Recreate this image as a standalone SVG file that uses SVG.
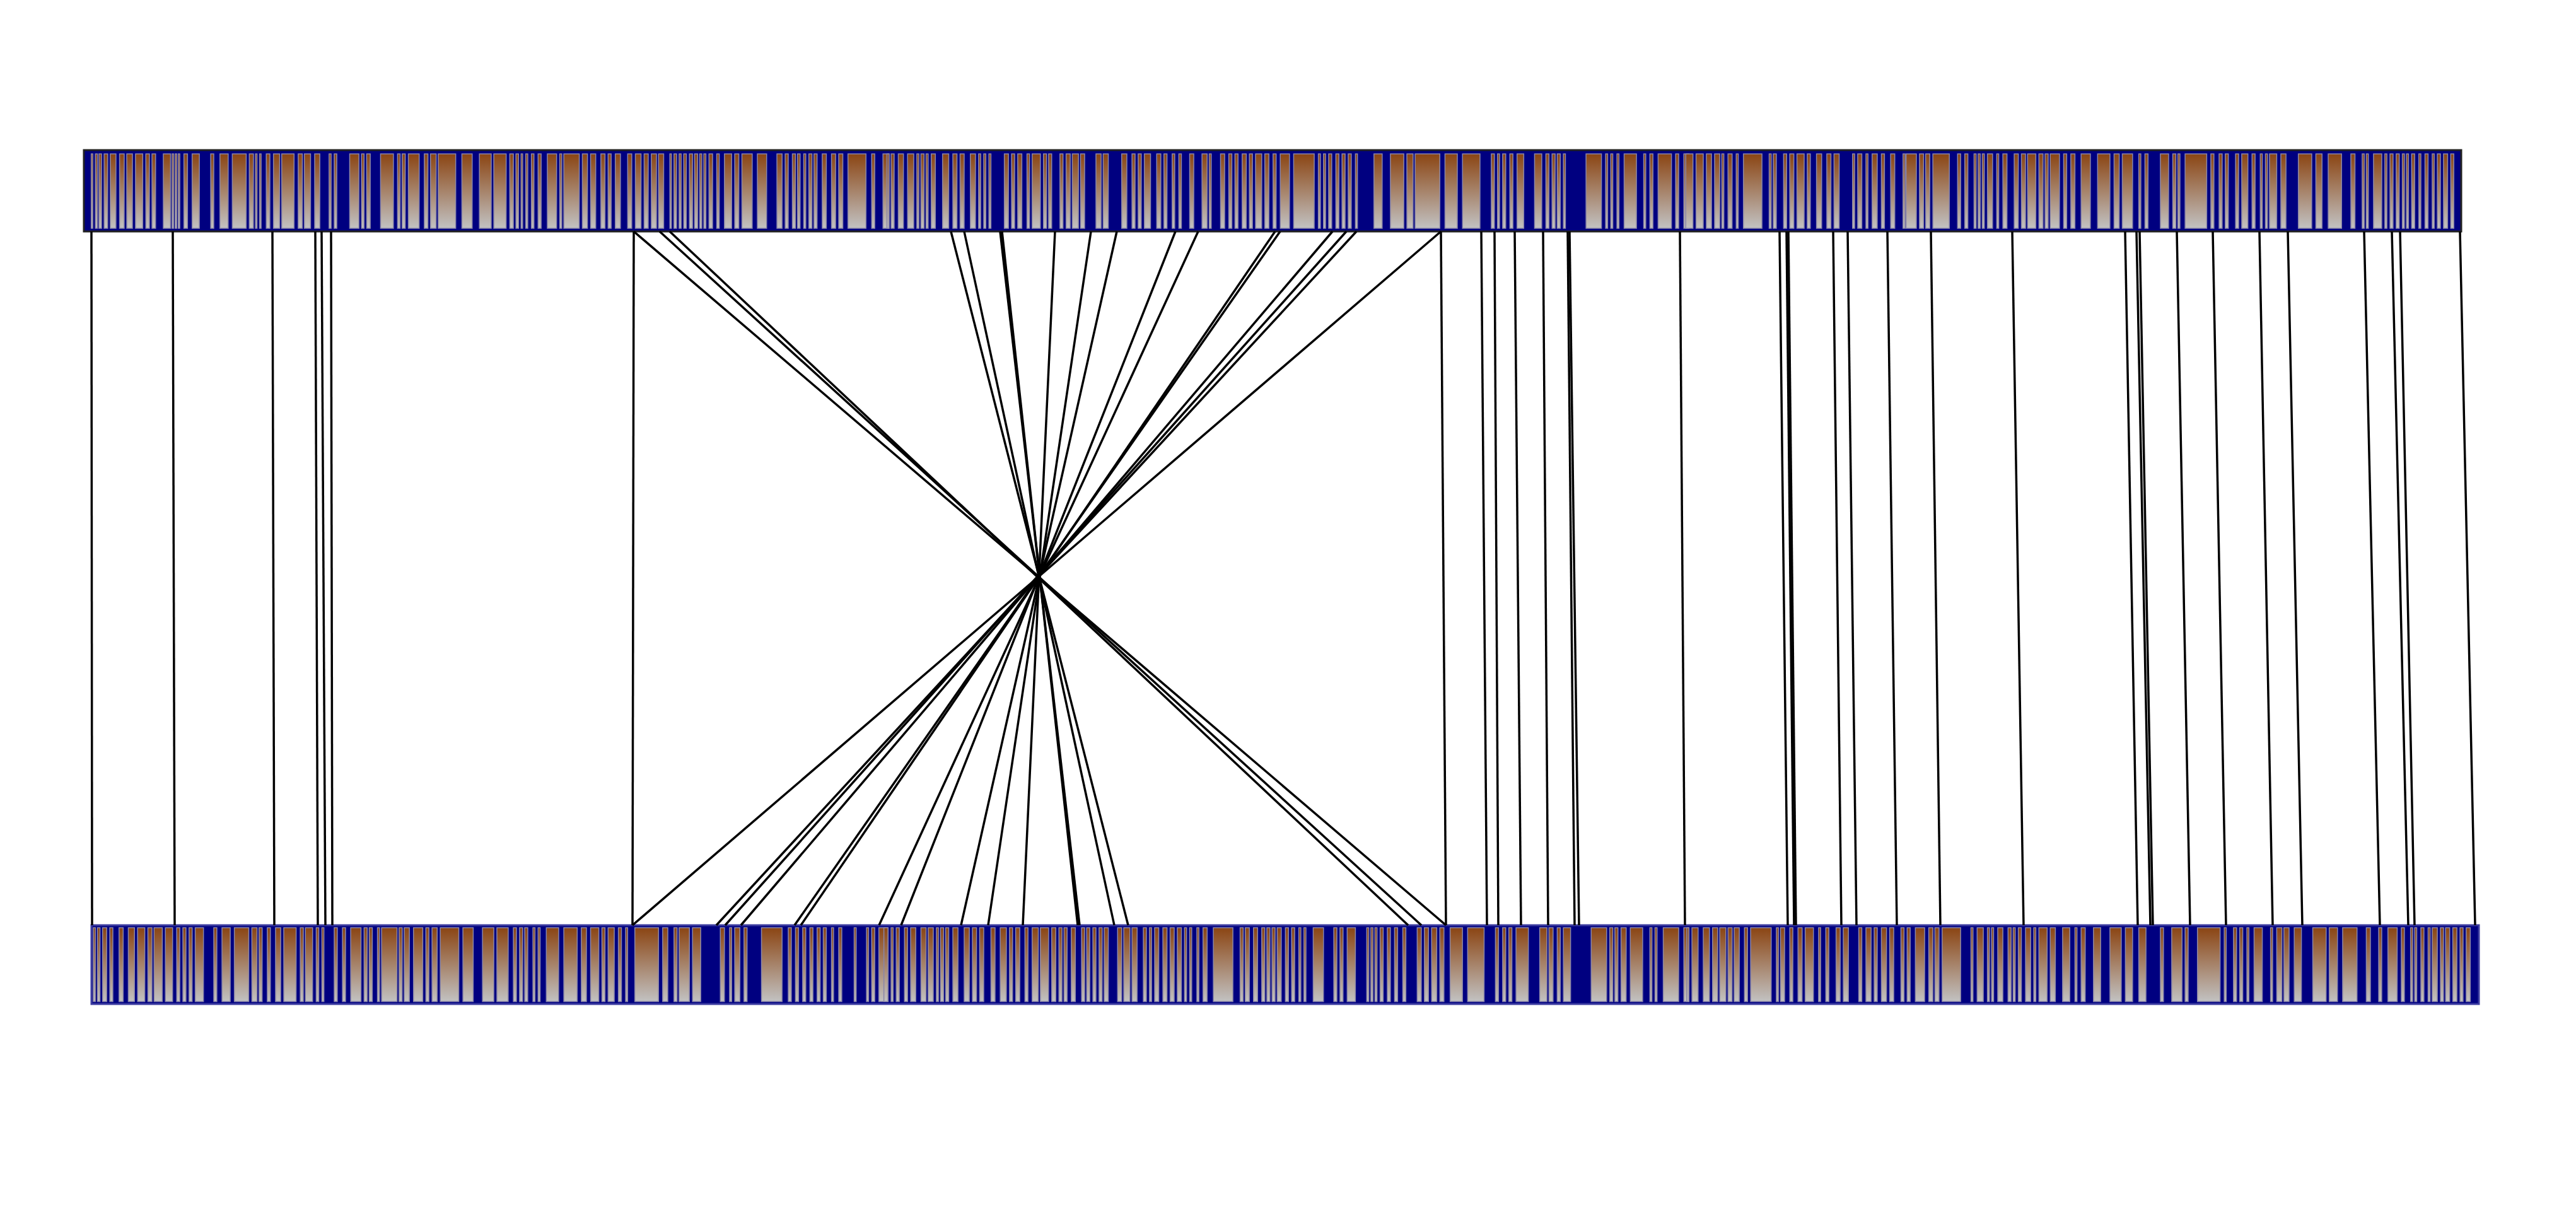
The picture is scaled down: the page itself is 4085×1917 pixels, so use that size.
<svg xmlns="http://www.w3.org/2000/svg" width="4085" height="1917" viewBox="0 0 4085 1917">
<style>
.bar{fill:#000080}
.gap{fill:url(#grad);stroke:#8a86a8;stroke-width:1.5}
.conn line{stroke:#000;stroke-width:3.5}
</style>
<defs>
<linearGradient id="grad" x1="0" y1="0" x2="0" y2="1">
<stop offset="0" stop-color="#8B4513"/>
<stop offset="1" stop-color="#C2C2C2"/>
</linearGradient>
</defs>
<rect width="4085" height="1917" fill="#fff"/>
<g id="genome-top">
<rect class="bar" x="133" y="238" width="3770" height="129" stroke="#222" stroke-width="3"/>
<g transform="translate(130 244) scale(0.81633 1)">
<path class="gap" vector-effect="non-scaling-stroke" d="M18 0H21V118H18Z M26 0H30V118H26Z M33 0H38V118H33Z M43 0H50V118H43Z M55 0H66V118H55Z M73 0H82V118H73Z M87 0H98V118H87Z M104 0H118V118H104Z M124 0H131V118H124Z M136 0H143V118H136Z M158 0H172V118H158Z M175 0H178V118H175Z M181 0H184V118H181Z M187 0H190V118H187Z M198 0H205V118H198Z M214 0H228V118H214Z M250 0H256V118H250Z M268 0H284V118H268Z M292 0H319V118H292Z M325 0H333V118H325Z M337 0H340V118H337Z M345 0H348V118H345Z M358 0H365V118H358Z M372 0H384V118H372Z M388 0H412V118H388Z M420 0H428V118H420Z M432 0H444V118H432Z M452 0H462V118H452Z M480 0H484V118H480Z M490 0H495V118H490Z M520 0H538V118H520Z M543 0H548V118H543Z M553 0H560V118H553Z M580 0H605V118H580Z M613 0H618V118H613Z M622 0H628V118H622Z M634 0H655V118H634Z M665 0H672V118H665Z M677 0H688V118H677Z M692 0H726V118H692Z M738 0H758V118H738Z M772 0H795V118H772Z M800 0H824V118H800Z M831 0H838V118H831Z M843 0H848V118H843Z M853 0H856V118H853Z M862 0H866V118H862Z M873 0H878V118H873Z M886 0H892V118H886Z M904 0H922V118H904Z M928 0H932V118H928Z M936 0H966V118H936Z M972 0H982V118H972Z M988 0H998V118H988Z M1008 0H1016V118H1008Z M1022 0H1028V118H1022Z M1036 0H1046V118H1036Z M1060 0H1068V118H1060Z M1075 0H1086V118H1075Z M1092 0H1100V118H1092Z M1106 0H1116V118H1106Z M1120 0H1130V118H1120Z M1142 0H1145V118H1142Z M1150 0H1155V118H1150Z M1160 0H1164V118H1160Z M1169 0H1174V118H1169Z M1180 0H1186V118H1180Z M1190 0H1196V118H1190Z M1200 0H1204V118H1200Z M1208 0H1212V118H1208Z M1218 0H1225V118H1218Z M1233 0H1238V118H1233Z M1248 0H1262V118H1248Z M1268 0H1276V118H1268Z M1282 0H1302V118H1282Z M1312 0H1330V118H1312Z M1350 0H1360V118H1350Z M1366 0H1372V118H1366Z M1380 0H1386V118H1380Z M1390 0H1395V118H1390Z M1402 0H1406V118H1402Z M1412 0H1418V118H1412Z M1422 0H1428V118H1422Z M1438 0H1446V118H1438Z M1456 0H1464V118H1456Z M1470 0H1478V118H1470Z M1488 0H1523V118H1488Z M1534 0H1540V118H1534Z M1556 0H1568V118H1556Z"/>
</g>
<g transform="translate(1400 244) scale(0.81633 1)">
<path class="gap" vector-effect="non-scaling-stroke" d="M8 0H12V118H8Z M16 0H22V118H16Z M30 0H40V118H30Z M48 0H60V118H48Z M66 0H70V118H66Z M74 0H80V118H74Z M84 0H88V118H84Z M94 0H102V118H94Z M116 0H128V118H116Z M136 0H144V118H136Z M150 0H158V118H150Z M170 0H180V118H170Z M186 0H190V118H186Z M196 0H200V118H196Z M206 0H210V118H206Z M236 0H244V118H236Z M250 0H256V118H250Z M262 0H270V118H262Z M280 0H285V118H280Z M290 0H306V118H290Z M312 0H318V118H312Z M322 0H328V118H322Z M344 0H350V118H344Z M356 0H364V118H356Z M368 0H380V118H368Z M384 0H392V118H384Z M414 0H424V118H414Z M428 0H438V118H428Z M464 0H474V118H464Z M484 0H490V118H484Z M496 0H502V118H496Z M508 0H520V118H508Z M532 0H540V118H532Z M546 0H552V118H546Z M562 0H567V118H562Z M575 0H580V118H575Z M596 0H604V118H596Z M620 0H630V118H620Z M634 0H638V118H634Z M656 0H664V118H656Z M672 0H678V118H672Z M684 0H690V118H684Z M698 0H706V118H698Z M712 0H718V118H712Z M724 0H736V118H724Z M742 0H750V118H742Z M758 0H764V118H758Z M772 0H790V118H772Z M798 0H838V118H798Z M846 0H850V118H846Z M856 0H860V118H856Z M866 0H872V118H866Z M880 0H886V118H880Z M892 0H898V118H892Z M904 0H910V118H904Z M918 0H922V118H918Z M954 0H970V118H954Z M986 0H1012V118H986Z M1018 0H1030V118H1018Z M1034 0H1082V118H1034Z M1092 0H1116V118H1092Z M1126 0H1160V118H1126Z M1182 0H1188V118H1182Z M1194 0H1198V118H1194Z M1204 0H1210V118H1204Z M1218 0H1224V118H1218Z M1232 0H1245V118H1232Z M1266 0H1280V118H1266Z M1288 0H1294V118H1288Z M1300 0H1306V118H1300Z M1310 0H1316V118H1310Z M1322 0H1326V118H1322Z M1366 0H1396V118H1366Z M1404 0H1408V118H1404Z M1414 0H1418V118H1414Z M1426 0H1430V118H1426Z M1440 0H1464V118H1440Z M1478 0H1482V118H1478Z M1490 0H1496V118H1490Z M1506 0H1532V118H1506Z M1540 0H1546V118H1540Z M1556 0H1566V118H1556Z"/>
</g>
<g transform="translate(2670 244) scale(0.81633 1)">
<path class="gap" vector-effect="non-scaling-stroke" d="M4 0H18V118H4Z M24 0H38V118H24Z M44 0H54V118H44Z M60 0H70V118H60Z M74 0H78V118H74Z M86 0H94V118H86Z M102 0H106V118H102Z M116 0H152V118H116Z M166 0H170V118H166Z M174 0H180V118H174Z M194 0H200V118H194Z M206 0H214V118H206Z M220 0H234V118H220Z M240 0H246V118H240Z M258 0H268V118H258Z M278 0H286V118H278Z M292 0H302V118H292Z M328 0H332V118H328Z M338 0H346V118H338Z M354 0H358V118H354Z M366 0H376V118H366Z M384 0H390V118H384Z M402 0H410V118H402Z M426 0H430V118H426Z M432 0H452V118H432Z M458 0H466V118H458Z M470 0H478V118H470Z M484 0H516V118H484Z M532 0H538V118H532Z M546 0H552V118H546Z M564 0H568V118H564Z M572 0H576V118H572Z M580 0H584V118H580Z M590 0H600V118H590Z M608 0H612V118H608Z M620 0H628V118H620Z M642 0H650V118H642Z M656 0H664V118H656Z M668 0H684V118H668Z M690 0H698V118H690Z M702 0H708V118H702Z M712 0H730V118H712Z M738 0H744V118H738Z M752 0H760V118H752Z M772 0H790V118H772Z M804 0H828V118H804Z M836 0H846V118H836Z M852 0H872V118H852Z M884 0H888V118H884Z M896 0H902V118H896Z M926 0H942V118H926Z M950 0H956V118H950Z M960 0H964V118H960Z M974 0H1016V118H974Z M1024 0H1030V118H1024Z M1040 0H1046V118H1040Z M1052 0H1058V118H1052Z M1072 0H1078V118H1072Z M1084 0H1096V118H1084Z M1104 0H1110V118H1104Z M1120 0H1124V118H1120Z M1130 0H1134V118H1130Z M1138 0H1152V118H1138Z M1160 0H1170V118H1160Z M1194 0H1220V118H1194Z M1228 0H1240V118H1228Z M1252 0H1278V118H1252Z M1296 0H1304V118H1296Z M1318 0H1322V118H1318Z M1326 0H1330V118H1326Z M1340 0H1356V118H1340Z M1362 0H1366V118H1362Z M1372 0H1378V118H1372Z M1384 0H1390V118H1384Z M1396 0H1400V118H1396Z M1404 0H1408V118H1404Z M1414 0H1420V118H1414Z M1428 0H1432V118H1428Z M1440 0H1446V118H1440Z M1454 0H1458V118H1454Z M1464 0H1470V118H1464Z M1476 0H1484V118H1476Z M1490 0H1496V118H1490Z"/>
</g>
</g>
<g id="genome-bottom">
<rect class="bar" x="145" y="1467" width="3786" height="125" stroke="#3c3ca0" stroke-width="3"/>
<g transform="translate(130 1471) scale(0.81633 1)">
<path class="gap" vector-effect="non-scaling-stroke" d="M22 0H26V117H22Z M30 0H35V117H30Z M40 0H48V117H40Z M54 0H60V117H54Z M72 0H80V117H72Z M90 0H102V117H90Z M108 0H122V117H108Z M128 0H136V117H128Z M140 0H156V117H140Z M162 0H176V117H162Z M184 0H190V117H184Z M196 0H202V117H196Z M208 0H214V117H208Z M220 0H236V117H220Z M256 0H262V117H256Z M272 0H288V117H272Z M296 0H324V117H296Z M330 0H340V117H330Z M344 0H350V117H344Z M360 0H366V117H360Z M376 0H386V117H376Z M392 0H416V117H392Z M424 0H430V117H424Z M434 0H448V117H434Z M455 0H460V117H455Z M466 0H470V117H466Z M490 0H496V117H490Z M506 0H512V117H506Z M522 0H542V117H522Z M548 0H554V117H548Z M558 0H564V117H558Z M574 0H578V117H574Z M582 0H612V117H582Z M616 0H622V117H616Z M626 0H636V117H626Z M644 0H662V117H644Z M668 0H674V117H668Z M680 0H690V117H680Z M696 0H732V117H696Z M740 0H760V117H740Z M778 0H800V117H778Z M806 0H828V117H806Z M838 0H844V117H838Z M850 0H856V117H850Z M860 0H866V117H860Z M876 0H880V117H876Z M886 0H890V117H886Z M902 0H926V117H902Z M936 0H962V117H936Z M970 0H980V117H970Z M988 0H1004V117H988Z M1010 0H1016V117H1010Z M1022 0H1034V117H1022Z M1042 0H1048V117H1042Z M1056 0H1060V117H1056Z M1074 0H1120V117H1074Z M1128 0H1138V117H1128Z M1150 0H1156V117H1150Z M1160 0H1180V117H1160Z M1186 0H1202V117H1186Z M1240 0H1248V117H1240Z M1258 0H1262V117H1258Z M1268 0H1278V117H1268Z M1286 0H1292V117H1286Z M1320 0H1360V117H1320Z M1372 0H1378V117H1372Z M1386 0H1392V117H1386Z M1400 0H1406V117H1400Z M1414 0H1420V117H1414Z M1428 0H1434V117H1428Z M1440 0H1446V117H1440Z M1456 0H1460V117H1456Z M1470 0H1476V117H1470Z M1500 0H1504V117H1500Z M1524 0H1528V117H1524Z M1534 0H1540V117H1534Z M1548 0H1566V117H1548Z"/>
</g>
<g transform="translate(1400 1471) scale(0.81633 1)">
<path class="gap" vector-effect="non-scaling-stroke" d="M2 0H10V117H2Z M16 0H20V117H16Z M26 0H32V117H26Z M42 0H48V117H42Z M54 0H64V117H54Z M74 0H84V117H74Z M88 0H98V117H88Z M104 0H108V117H104Z M112 0H118V117H112Z M122 0H128V117H122Z M136 0H146V117H136Z M158 0H168V117H158Z M174 0H182V117H174Z M188 0H196V117H188Z M210 0H218V117H210Z M228 0H240V117H228Z M246 0H252V117H246Z M258 0H266V117H258Z M276 0H282V117H276Z M290 0H302V117H290Z M306 0H322V117H306Z M328 0H336V117H328Z M342 0H348V117H342Z M352 0H358V117H352Z M366 0H374V117H366Z M386 0H392V117H386Z M396 0H402V117H396Z M408 0H414V117H408Z M420 0H426V117H420Z M430 0H438V117H430Z M456 0H464V117H456Z M468 0H480V117H468Z M484 0H494V117H484Z M506 0H512V117H506Z M518 0H522V117H518Z M528 0H536V117H528Z M544 0H552V117H544Z M558 0H566V117H558Z M572 0H580V117H572Z M586 0H590V117H586Z M596 0H600V117H596Z M610 0H614V117H610Z M622 0H630V117H622Z M642 0H680V117H642Z M694 0H700V117H694Z M704 0H712V117H704Z M720 0H728V117H720Z M736 0H742V117H736Z M746 0H752V117H746Z M756 0H762V117H756Z M766 0H774V117H766Z M782 0H788V117H782Z M794 0H800V117H794Z M808 0H812V117H808Z M818 0H822V117H818Z M836 0H856V117H836Z M876 0H882V117H876Z M888 0H894V117H888Z M902 0H918V117H902Z M940 0H944V117H940Z M948 0H952V117H948Z M956 0H960V117H956Z M966 0H972V117H966Z M980 0H986V117H980Z M994 0H1000V117H994Z M1010 0H1016V117H1010Z M1038 0H1046V117H1038Z M1052 0H1060V117H1052Z M1066 0H1076V117H1066Z M1082 0H1090V117H1082Z M1102 0H1126V117H1102Z M1136 0H1168V117H1136Z M1190 0H1196V117H1190Z M1204 0H1210V117H1204Z M1216 0H1222V117H1216Z M1230 0H1254V117H1230Z M1276 0H1290V117H1276Z M1294 0H1302V117H1294Z M1310 0H1316V117H1310Z M1322 0H1336V117H1322Z M1376 0H1406V117H1376Z M1412 0H1418V117H1412Z M1422 0H1428V117H1422Z M1434 0H1444V117H1434Z M1452 0H1476V117H1452Z M1490 0H1494V117H1490Z M1500 0H1504V117H1500Z M1516 0H1546V117H1516Z M1556 0H1566V117H1556Z"/>
</g>
<g transform="translate(2670 1471) scale(0.81633 1)">
<path class="gap" vector-effect="non-scaling-stroke" d="M6 0H10V117H6Z M16 0H28V117H16Z M38 0H50V117H38Z M56 0H66V117H56Z M70 0H82V117H70Z M86 0H94V117H86Z M98 0H108V117H98Z M118 0H124V117H118Z M130 0H170V117H130Z M180 0H184V117H180Z M188 0H196V117H188Z M206 0H212V117H206Z M222 0H230V117H222Z M236 0H252V117H236Z M262 0H266V117H262Z M276 0H282V117H276Z M296 0H304V117H296Z M310 0H320V117H310Z M340 0H346V117H340Z M354 0H364V117H354Z M370 0H376V117H370Z M384 0H394V117H384Z M400 0H408V117H400Z M422 0H428V117H422Z M434 0H440V117H434Z M450 0H468V117H450Z M476 0H484V117H476Z M488 0H496V117H488Z M502 0H538V117H502Z M558 0H562V117H558Z M570 0H582V117H570Z M590 0H594V117H590Z M598 0H602V117H598Z M610 0H620V117H610Z M630 0H636V117H630Z M640 0H644V117H640Z M650 0H656V117H650Z M664 0H674V117H664Z M680 0H684V117H680Z M690 0H706V117H690Z M712 0H722V117H712Z M736 0H750V117H736Z M760 0H764V117H760Z M772 0H780V117H772Z M796 0H810V117H796Z M828 0H850V117H828Z M858 0H872V117H858Z M884 0H898V117H884Z M926 0H932V117H926Z M948 0H968V117H948Z M974 0H980V117H974Z M998 0H1042V117H998Z M1050 0H1054V117H1050Z M1068 0H1074V117H1068Z M1080 0H1086V117H1080Z M1094 0H1098V117H1094Z M1108 0H1124V117H1108Z M1140 0H1144V117H1140Z M1152 0H1162V117H1152Z M1166 0H1176V117H1166Z M1186 0H1200V117H1186Z M1222 0H1248V117H1222Z M1254 0H1270V117H1254Z M1280 0H1308V117H1280Z M1326 0H1334V117H1326Z M1350 0H1356V117H1350Z M1368 0H1386V117H1368Z M1394 0H1400V117H1394Z M1412 0H1416V117H1412Z M1420 0H1424V117H1420Z M1432 0H1438V117H1432Z M1446 0H1450V117H1446Z M1454 0H1464V117H1454Z M1470 0H1476V117H1470Z M1480 0H1488V117H1480Z M1494 0H1502V117H1494Z M1508 0H1514V117H1508Z M1520 0H1528V117H1520Z"/>
</g>
</g>
<g id="connectors" class="conn">
<line x1="145" y1="367" x2="146" y2="1467"/>
<line x1="274" y1="367" x2="277" y2="1467"/>
<line x1="432" y1="367" x2="435" y2="1467"/>
<line x1="500" y1="367" x2="504" y2="1467"/>
<line x1="510" y1="367" x2="516" y2="1467"/>
<line x1="525" y1="367" x2="527" y2="1467"/>
<line x1="1005" y1="367" x2="1003" y2="1467"/>
<line x1="1005" y1="367" x2="2293" y2="1467"/>
<line x1="1046" y1="367" x2="2254" y2="1467"/>
<line x1="1062" y1="367" x2="2233" y2="1467"/>
<line x1="1508" y1="367" x2="1789" y2="1467"/>
<line x1="1529" y1="367" x2="1767" y2="1467"/>
<line x1="1586" y1="367" x2="1712" y2="1467"/>
<line x1="1589" y1="367" x2="1709" y2="1467"/>
<line x1="1673" y1="367" x2="1622" y2="1467"/>
<line x1="1730" y1="367" x2="1567" y2="1467"/>
<line x1="1771" y1="367" x2="1524" y2="1467"/>
<line x1="1864" y1="367" x2="1429" y2="1467"/>
<line x1="1900" y1="367" x2="1394" y2="1467"/>
<line x1="2022" y1="367" x2="1270" y2="1467"/>
<line x1="2030" y1="367" x2="1260" y2="1467"/>
<line x1="2113" y1="367" x2="1175" y2="1467"/>
<line x1="2135" y1="367" x2="1150" y2="1467"/>
<line x1="2151" y1="367" x2="1136" y2="1467"/>
<line x1="2285" y1="367" x2="1003" y2="1467"/>
<line x1="2285" y1="367" x2="2293" y2="1467"/>
<line x1="2349" y1="367" x2="2358" y2="1467"/>
<line x1="2370" y1="367" x2="2376" y2="1467"/>
<line x1="2402" y1="367" x2="2412" y2="1467"/>
<line x1="2447" y1="367" x2="2455" y2="1467"/>
<line x1="2486" y1="367" x2="2497" y2="1467"/>
<line x1="2489" y1="367" x2="2504" y2="1467"/>
<line x1="2664" y1="367" x2="2672" y2="1467"/>
<line x1="2822" y1="367" x2="2835" y2="1467"/>
<line x1="2833" y1="367" x2="2845" y2="1467"/>
<line x1="2836" y1="367" x2="2848" y2="1467"/>
<line x1="2907" y1="367" x2="2920" y2="1467"/>
<line x1="2930" y1="367" x2="2944" y2="1467"/>
<line x1="2993" y1="367" x2="3008" y2="1467"/>
<line x1="3062" y1="367" x2="3077" y2="1467"/>
<line x1="3191" y1="367" x2="3209" y2="1467"/>
<line x1="3370" y1="367" x2="3390" y2="1467"/>
<line x1="3388" y1="367" x2="3410" y2="1467"/>
<line x1="3393" y1="367" x2="3414" y2="1467"/>
<line x1="3452" y1="367" x2="3473" y2="1467"/>
<line x1="3509" y1="367" x2="3530" y2="1467"/>
<line x1="3583" y1="367" x2="3604" y2="1467"/>
<line x1="3628" y1="367" x2="3651" y2="1467"/>
<line x1="3749" y1="367" x2="3774" y2="1467"/>
<line x1="3793" y1="367" x2="3819" y2="1467"/>
<line x1="3806" y1="367" x2="3829" y2="1467"/>
<line x1="3901" y1="367" x2="3925" y2="1467"/>
</g>
</svg>
